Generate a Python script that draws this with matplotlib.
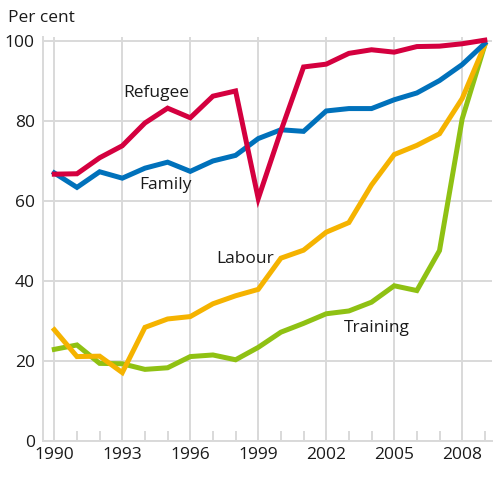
import matplotlib.pyplot as plt
from matplotlib.ticker import MultipleLocator

# Data
years = list(range(1990, 2010))
refugee = [66.7, 66.8, 70.8, 73.8, 79.5, 83.2, 80.8, 86.2, 87.5, 60.6,
           77.5, 93.5, 94.2, 96.9, 97.8, 97.2, 98.6, 98.7, 99.3, 100.2]
family = [67.0, 63.4, 67.3, 65.7, 68.2, 69.7, 67.4, 70.0, 71.4, 75.6,
          77.8, 77.4, 82.5, 83.1, 83.1, 85.3, 87.0, 90.1, 94.1, 99.4]
labour = [27.8, 21.1, 21.2, 17.1, 28.4, 30.5, 31.1, 34.3, 36.3, 37.9,
          45.7, 47.7, 52.2, 54.6, 64.0, 71.6, 73.9, 76.8, 85.6, 99.0]
training = [22.9, 24.0, 19.4, 19.3, 17.9, 18.3, 21.1, 21.5, 20.3, 23.4,
            27.2, 29.4, 31.8, 32.5, 34.7, 38.8, 37.6, 47.6, 80.5, 99.0]
major_years = list(range(1990, 2010, 3))

colors = {"Refugee": "#d4003f", "Family": "#0071bb", "Labour": "#f5b300", "Training": "#8fc113"}

plt.rcParams['font.family'] = ['Open Sans', 'DejaVu Sans']

fig = plt.figure(figsize=(4.93, 4.87), dpi=100)
ax = fig.add_axes([0.0872, 0.0945, 0.91, 0.8296])

grey = "#d9d9d9"
lw = 3.6
ax.plot(years, training, color=colors["Training"], lw=lw, solid_joinstyle='miter', zorder=3)
ax.plot(years, labour, color=colors["Labour"], lw=lw, solid_joinstyle='miter', zorder=3)
ax.plot(years, family, color=colors["Family"], lw=lw, solid_joinstyle='miter', zorder=4)
ax.plot(years, refugee, color=colors["Refugee"], lw=lw, solid_joinstyle='miter', zorder=5)

ax.set_xlim(1989.5, 2009.3)
ax.set_ylim(0, 101)

ax.set_xticks(major_years)
ax.set_xticks(years, minor=True)
ax.yaxis.set_major_locator(MultipleLocator(20))
ax.grid(True, which='major', color=grey, lw=1.4, zorder=1)
ax.tick_params(axis='x', which='both', direction='in', length=7, width=1.4,
               color=grey, labelsize=12.5, labelcolor='#1a1a1a', pad=4)
ax.tick_params(axis='y', which='both', length=0, labelsize=12.5, labelcolor='#1a1a1a', pad=6)

for side in ['top', 'right']:
    ax.spines[side].set_visible(False)
for side in ['left', 'bottom']:
    ax.spines[side].set_color(grey)
    ax.spines[side].set_linewidth(1.4)

# Series labels
ax.text(1994.5, 87.0, "Refugee", fontsize=12.5, color='#1a1a1a', ha='center', va='center')
ax.text(1994.9, 64.0, "Family", fontsize=12.5, color='#1a1a1a', ha='center', va='center')
ax.text(1998.4, 45.5, "Labour", fontsize=12.5, color='#1a1a1a', ha='center', va='center')
ax.text(2004.25, 28.3, "Training", fontsize=12.5, color='#1a1a1a', ha='center', va='center')

fig.text(8 / 493, 1 - 18 / 487, "Per cent", fontsize=12.5, color='#1a1a1a', ha='left', va='center')

fig.savefig("out.png", dpi=100)
